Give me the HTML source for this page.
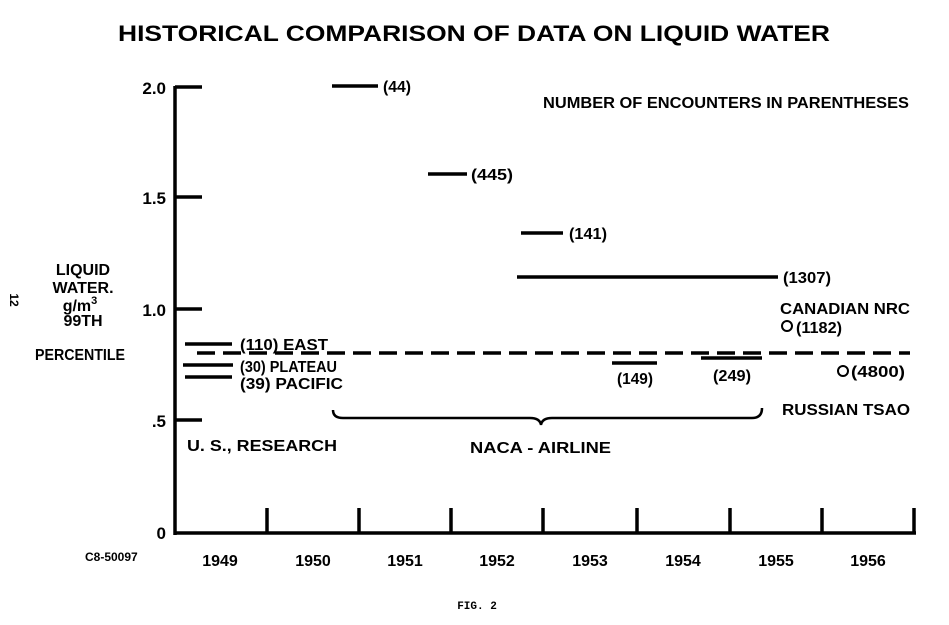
<!DOCTYPE html>
<html><head><style>body{margin:0;background:#fff}svg{display:block}text{font-family:"Liberation Sans",sans-serif;font-weight:bold;fill:#000}</style></head><body>
<svg width="949" height="625" viewBox="0 0 949 625" xmlns="http://www.w3.org/2000/svg">
<text x="118" y="41" font-size="22" textLength="712" lengthAdjust="spacingAndGlyphs">HISTORICAL COMPARISON OF DATA ON LIQUID WATER</text>
<text x="543" y="108" font-size="16" textLength="366" lengthAdjust="spacingAndGlyphs">NUMBER OF ENCOUNTERS IN PARENTHESES</text>
<g stroke="#000" stroke-width="3.5" fill="none">
<line x1="175" y1="86" x2="175" y2="535"/>
<line x1="175" y1="533" x2="916" y2="533"/>
<line x1="175" y1="87" x2="202" y2="87"/>
<line x1="175" y1="197" x2="202" y2="197"/>
<line x1="175" y1="309" x2="202" y2="309"/>
<line x1="175" y1="420" x2="202" y2="420"/>
<line x1="267" y1="533" x2="267" y2="508"/>
<line x1="359" y1="533" x2="359" y2="508"/>
<line x1="451" y1="533" x2="451" y2="508"/>
<line x1="543" y1="533" x2="543" y2="508"/>
<line x1="637" y1="533" x2="637" y2="508"/>
<line x1="730" y1="533" x2="730" y2="508"/>
<line x1="822" y1="533" x2="822" y2="508"/>
<line x1="914" y1="533" x2="914" y2="508"/>
<line x1="332" y1="86" x2="378" y2="86"/>
<line x1="428" y1="174" x2="467" y2="174"/>
<line x1="521" y1="233" x2="563" y2="233"/>
<line x1="517" y1="277" x2="778" y2="277"/>
<line x1="185" y1="344" x2="232" y2="344"/>
<line x1="183" y1="365" x2="233" y2="365"/>
<line x1="185" y1="377" x2="232" y2="377"/>
<line x1="197" y1="353" x2="910" y2="353" stroke-dasharray="18,8"/>
<line x1="612" y1="363" x2="657" y2="363"/>
<line x1="701" y1="358" x2="762" y2="358"/>
<circle cx="787" cy="326" r="5" stroke-width="2"/>
<circle cx="843" cy="371" r="5" stroke-width="2"/>
<path d="M333 410 Q333 418 343 418 L530 418 Q540 418 541 425 Q542 418 552 418 L752 418 Q762 418 762 408" stroke-width="2.5"/>
</g>
<g font-size="17">
<text x="166" y="94" text-anchor="end">2.0</text>
<text x="166" y="204" text-anchor="end">1.5</text>
<text x="166" y="316" text-anchor="end">1.0</text>
<text x="166" y="427" text-anchor="end">.5</text>
<text x="166" y="539" text-anchor="end">0</text>
</g>
<g font-size="16">
<text x="383" y="92" textLength="28" lengthAdjust="spacingAndGlyphs">(44)</text>
<text x="471" y="180" textLength="42" lengthAdjust="spacingAndGlyphs">(445)</text>
<text x="569" y="239" textLength="38" lengthAdjust="spacingAndGlyphs">(141)</text>
<text x="783" y="283" textLength="48" lengthAdjust="spacingAndGlyphs">(1307)</text>
<text x="240" y="350" textLength="88" lengthAdjust="spacingAndGlyphs">(110)  EAST</text>
<text x="240" y="372" textLength="97" lengthAdjust="spacingAndGlyphs">(30)  PLATEAU</text>
<text x="240" y="389" textLength="103" lengthAdjust="spacingAndGlyphs">(39)  PACIFIC</text>
<text x="617" y="384" textLength="36" lengthAdjust="spacingAndGlyphs">(149)</text>
<text x="713" y="381" textLength="38" lengthAdjust="spacingAndGlyphs">(249)</text>
<text x="780" y="314" textLength="130" lengthAdjust="spacingAndGlyphs">CANADIAN NRC</text>
<text x="796" y="333" textLength="46" lengthAdjust="spacingAndGlyphs">(1182)</text>
<text x="851" y="377" textLength="54" lengthAdjust="spacingAndGlyphs">(4800)</text>
<text x="782" y="415" textLength="128" lengthAdjust="spacingAndGlyphs">RUSSIAN TSAO</text>
<text x="187" y="451" textLength="150" lengthAdjust="spacingAndGlyphs">U. S.,  RESEARCH</text>
<text x="470" y="453" textLength="141" lengthAdjust="spacingAndGlyphs">NACA - AIRLINE</text>
<g text-anchor="middle">
<text x="83" y="275">LIQUID</text>
<text x="83" y="293">WATER.</text>
<text x="80" y="311">g/m<tspan font-size="11" dy="-7">3</tspan></text>
<text x="83" y="326">99TH</text>
<text x="80" y="360" textLength="90" lengthAdjust="spacingAndGlyphs">PERCENTILE</text>
</g>
<text x="220" y="566" text-anchor="middle">1949</text>
<text x="313" y="566" text-anchor="middle">1950</text>
<text x="405" y="566" text-anchor="middle">1951</text>
<text x="497" y="566" text-anchor="middle">1952</text>
<text x="590" y="566" text-anchor="middle">1953</text>
<text x="683" y="566" text-anchor="middle">1954</text>
<text x="776" y="566" text-anchor="middle">1955</text>
<text x="868" y="566" text-anchor="middle">1956</text>
<text x="85" y="561" font-size="12">C8-50097</text>
</g>
<text x="10" y="300" font-size="12" font-family="Liberation Mono" transform="rotate(90 10 300)" text-anchor="middle">12</text>
<text x="477" y="609" font-size="11" text-anchor="middle" style="font-family:'Liberation Mono',monospace">FIG. 2</text>
</svg>
</body></html>
